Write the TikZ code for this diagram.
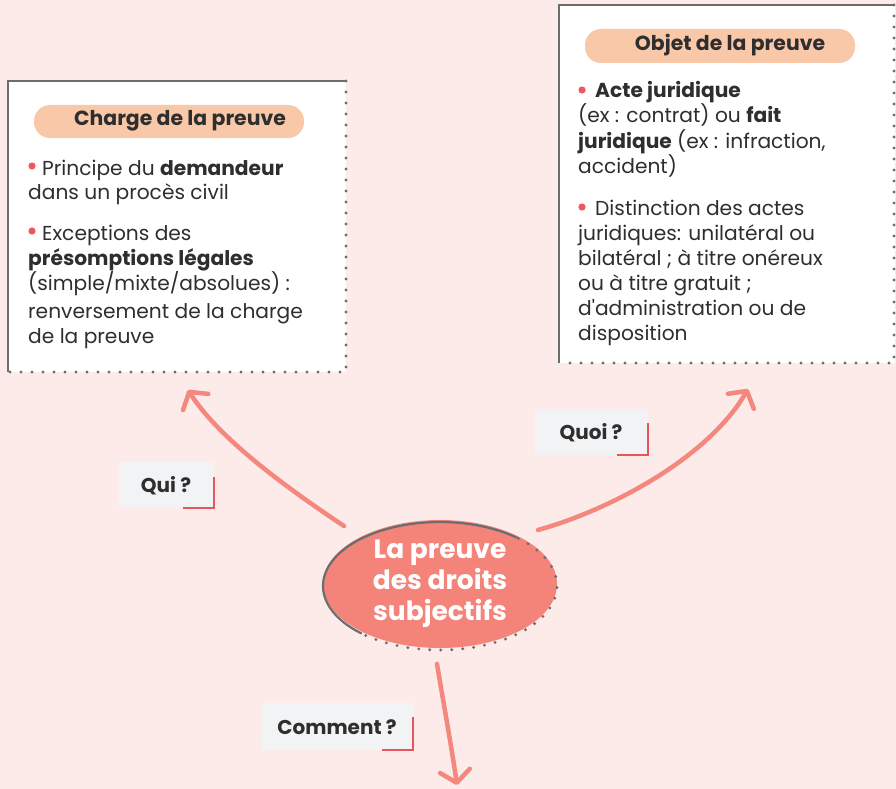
\documentclass[tikz,border=0pt]{standalone}
\usepackage{fontspec}
\setmainfont{Poppins}
\usetikzlibrary{arrows.meta,shapes.geometric}
\definecolor{bg}{HTML}{FCEBE8}
\definecolor{pill}{HTML}{F9C8A8}
\definecolor{ell}{HTML}{F4837A}
\definecolor{arr}{HTML}{F4877E}
\definecolor{bord}{HTML}{6D6D70}
\definecolor{lab}{HTML}{F2F3F5}
\definecolor{brk}{HTML}{E8535E}
\definecolor{bulc}{HTML}{EE5660}
\definecolor{ink}{HTML}{2E2E2E}
\tikzset{
  txt/.style={anchor=base west,inner sep=0pt,text=ink,font=\fontsize{20.2}{24}\selectfont},
  ttl/.style={inner sep=0pt,text=ink,font=\fontsize{20.4}{24}\selectfont\bfseries},
  labtxt/.style={inner sep=0pt,text=ink,font=\fontsize{20}{24}\selectfont\bfseries},
  solidb/.style={draw=bord,line width=2.2pt},
  dotb/.style={draw=bord,line width=3.2pt,line cap=round,dash pattern=on 0pt off 11pt},
  pillbox/.style={fill=pill,rounded corners=16pt},
  labbox/.style={fill=lab},
  bracket/.style={draw=brk,line width=2pt},
  conn/.style={draw=arr,line width=4.5pt,line cap=round,-{Straight Barb[length=12pt,width=30pt,line cap=round,line join=round]}},
  bul/.style={fill=bulc}
}
\begin{document}
\begin{tikzpicture}[x=1pt,y=-1pt]
\useasboundingbox (0,0) rectangle (896,789);
\fill[bg] (0,0) rectangle (896,789);

% left box
\fill[white] (8,81) rectangle (346,372);
\draw[solidb] (8,372) -- (8,81) -- (346,81);
\draw[dotb] (346,81) -- (346,372) -- (8,372);
\fill[pillbox] (34,105) rectangle (304,138);
\node[ttl] (t1) at (180,121) {Charge de la preuve};
\fill[bul] (32,166) circle (3.6);
\node[txt] (a1) at (42,175) {Principe du \textbf{demandeur}};
\node[txt] (a2) at (28,199) {dans un procès civil};
\fill[bul] (32,231) circle (3.6);
\node[txt] (a3) at (42,240) {Exceptions des};
\node[txt] (a4) at (28,265) {\textbf{présomptions légales}};
\node[txt] (a5) at (28,290) {(simple/mixte/absolues) :};
\node[txt] (a6) at (28,318) {renversement de la charge};
\node[txt] (a7) at (28,343) {de la preuve};

% right box
\fill[white] (559,5) rectangle (895,363);
\draw[solidb] (559,363) -- (559,5) -- (895,5);
\draw[dotb] (894,5) -- (894,363) -- (559,363);
\fill[pillbox] (585,29) rectangle (855,63);
\node[ttl] (t2) at (730,45) {Objet de la preuve};
\fill[bul] (582,90) circle (3.6);
\node[txt] (b1) at (595,98) {\textbf{Acte juridique}};
\node[txt] (b2) at (578,123) {(ex : contrat) ou \textbf{fait}};
\node[txt] (b3) at (578,148) {\textbf{juridique} (ex : infraction,};
\node[txt] (b4) at (578,173) {accident)};
\fill[bul] (582,207) circle (3.6);
\node[txt] (b5) at (595,215) {Distinction des actes};
\node[txt] (b6) at (578,240) {juridiques: unilatéral ou};
\node[txt] (b7) at (578,265) {bilatéral ; à titre onéreux};
\node[txt] (b8) at (578,290) {ou à titre gratuit ;};
\node[txt] (b9) at (578,315) {d\textquotesingle administration ou de};
\node[txt] (b10) at (578,340) {disposition};

% central ellipse
\node[ellipse,fill=ell,minimum width=234pt,minimum height=128pt,inner sep=0pt,
  text=white,align=center,font=\fontsize{26.5}{31}\selectfont\bfseries] (c) at (440,584)
  {La preuve\\des droits\\subjectifs};
\draw[draw=bord,line width=2.2pt] plot[domain=-49:-228,samples=80] ({440+117*cos(\x)},{586+64*sin(\x)});
\draw[dotb] plot[domain=-48:132,samples=200] ({440+117*cos(\x)},{586+64*sin(\x)});

% connectors
\coordinate (s1) at (344,526);
\coordinate (e1) at (188,390);
\coordinate (s2) at (538,530);
\coordinate (e2) at (748,389);
\coordinate (s3) at (437,664);
\coordinate (e3) at (457,785);
\draw[conn] (s1) .. controls (290,490) and (220,440) .. (e1);
\draw[conn] (s2) .. controls (610,510) and (708,458) .. (e2);
\draw[conn] (s3) .. controls (443,700) and (452,750) .. (e3);

% labels
\fill[labbox] (119,462) rectangle (214,508);
\node[labtxt] (q1) at (166,486) {Qui ?};
\draw[bracket] (214,477) -- (214,508) -- (183,508);
\fill[labbox] (535,409) rectangle (648,455);
\node[labtxt] (q2) at (591,433) {Quoi ?};
\draw[bracket] (648,423) -- (648,455) -- (617,455);
\fill[labbox] (262,703) rectangle (413,750);
\node[labtxt] (q3) at (337,727) {Comment ?};
\draw[bracket] (413,717) -- (413,750) -- (382,750);
\end{tikzpicture}
\end{document}
